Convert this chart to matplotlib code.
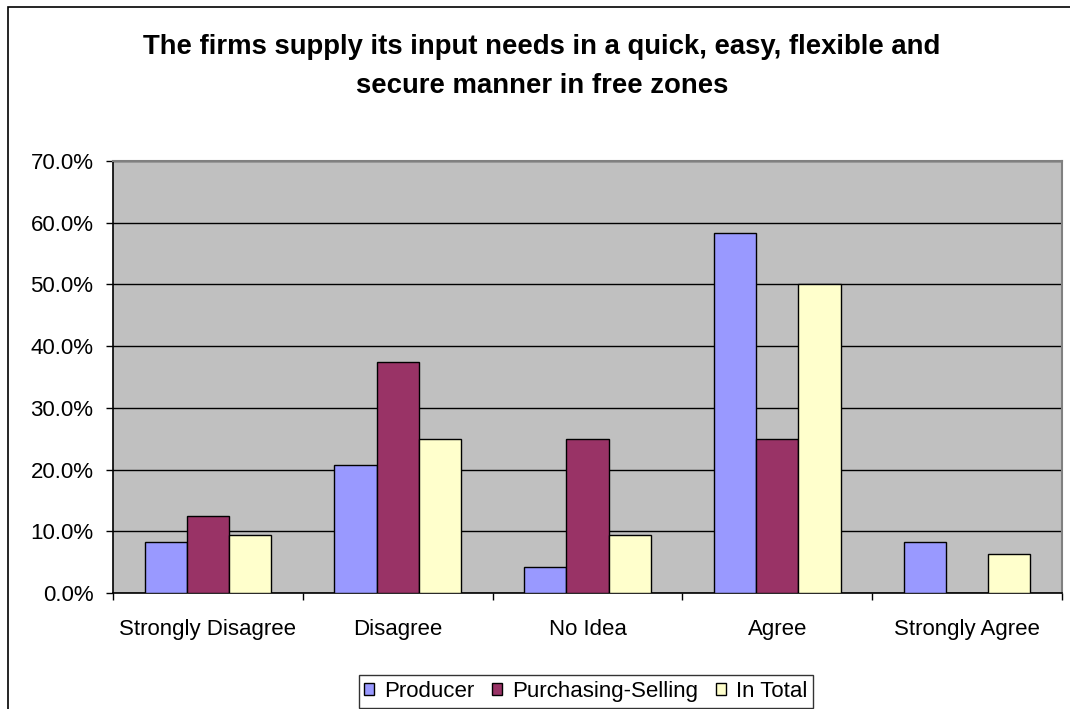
import matplotlib
matplotlib.use('Agg')
import matplotlib.pyplot as plt
import numpy as np
from matplotlib.patches import Rectangle
from matplotlib.ticker import PercentFormatter, FixedLocator

plt.rcParams['font.family'] = ['Liberation Sans', 'DejaVu Sans']

kategorijos = ['Strongly Disagree', 'Disagree', 'No Idea', 'Agree', 'Strongly Agree']
serijos = ['Producer', 'Purchasing-Selling', 'In Total']
producer = [8.3, 20.8, 4.2, 58.3, 8.3]
purchasing = [12.5, 37.5, 25.0, 25.0, 0.0]
in_total = [9.4, 25.0, 9.4, 50.0, 6.3]
spalvos = ['#9999FF', '#993366', '#FFFFCC']

W, H = 1070, 709
fig = plt.figure(figsize=(W / 100, H / 100), dpi=100)
ax = fig.add_axes([113 / W, 1 - 593 / H, (1062 - 113) / W, (593 - 161) / H])
ax.set_facecolor('#C0C0C0')

x = np.arange(len(kategorijos))
plotis = 0.222
for i, (vardas, reiksmes, spalva) in enumerate(zip(serijos, [producer, purchasing, in_total], spalvos)):
    ax.bar(x + (i - 1) * plotis, reiksmes, width=plotis, color=spalva,
           edgecolor='black', linewidth=1.0, label=vardas, zorder=3)

ax.set_xlim(-0.5, len(kategorijos) - 0.5)
ax.set_ylim(0, 70)
ax.yaxis.set_major_locator(FixedLocator(np.arange(0, 71, 10)))
ax.yaxis.set_major_formatter(PercentFormatter(xmax=100, decimals=1))
ax.yaxis.grid(True, color='black', linewidth=1.0)
ax.set_axisbelow(True)

# skirtukai tarp kategoriju, pavadinimai per viduri
ax.set_xticks(np.arange(-0.5, len(kategorijos), 1.0))
ax.set_xticklabels([])
ax.set_xticks(x, minor=True)
ax.set_xticklabels(kategorijos, minor=True)
ax.tick_params(axis='x', which='major', direction='out', length=5, width=1, color='black')
ax.tick_params(axis='x', which='minor', length=0, pad=19, labelsize=16)
ax.tick_params(axis='y', direction='out', length=5, width=1, pad=9, labelsize=16)

for s in ['left', 'bottom']:
    ax.spines[s].set_color('black')
    ax.spines[s].set_linewidth(1.2)
for s in ['top', 'right']:
    ax.spines[s].set_color('#808080')
    ax.spines[s].set_linewidth(1.5)

fig.text(542 / W, 1 - 66.5 / H,
         'The firms supply its input needs in a quick, easy, flexible and\nsecure manner in free zones',
         ha='center', va='center', fontsize=19.8, fontweight='bold', linespacing=1.62)

leg = fig.legend(loc='center', bbox_to_anchor=(586 / W, 1 - 691.5 / H), ncol=3,
                 fontsize=16, frameon=True, fancybox=False, edgecolor='black',
                 handlelength=0.45, handleheight=0.45, handletextpad=0.45,
                 columnspacing=0.8, borderpad=0.25, borderaxespad=0)
leg.get_frame().set_linewidth(1.0)

# remelis aplink visa diagrama
fig.patches.append(Rectangle((8 / W, -0.1), 1.2, 1.1 - 7 / H, transform=fig.transFigure,
                             fill=False, edgecolor='black', linewidth=1.2))

fig.savefig('out.png', dpi=100, facecolor='white')
